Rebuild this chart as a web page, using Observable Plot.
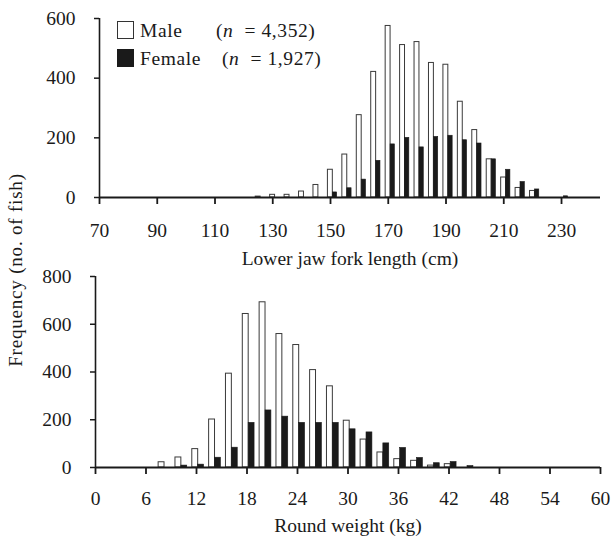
<!DOCTYPE html>
<html>
<head>
<meta charset="utf-8">
<script src="https://cdn.jsdelivr.net/npm/d3@7"></script>
<script src="https://cdn.jsdelivr.net/npm/@observablehq/plot@0.6"></script>
<style>
  body { margin: 0; background: #fff; }
  #wrap { position: relative; width: 613px; height: 542px; font-family: "Liberation Serif", "Times New Roman", serif; color: #1a1a1a; }
  #wrap svg { display: block; overflow: visible; }
  .lg { position: absolute; font-size: 19.5px; letter-spacing: 0.6px; line-height: 1; white-space: nowrap; }
  .sw { position: absolute; width: 17px; height: 18px; box-sizing: border-box; border: 1.2px solid #333; }
  #ytitle { position: absolute; left: 15px; top: 270px; transform: translate(-50%, -50%) rotate(-90deg); font-size: 19px; letter-spacing: 0.8px; white-space: nowrap; line-height: 1; }
</style>
</head>
<body>
<div id="wrap">
  <div id="top"></div>
  <div id="bottom"></div>
  <div id="ytitle">Frequency (no. of fish)</div>
  <div class="sw" style="left:117px; top:21px; background:#fff;"></div>
  <div class="lg" style="left:140px; top:21px;">Male</div>
  <div class="lg" style="left:216px; top:21px;">(<i>n</i>&nbsp; = 4,352)</div>
  <div class="sw" style="left:117px; top:49px; background:#1a1a1a; border-color:#1a1a1a;"></div>
  <div class="lg" style="left:140px; top:49px;">Female</div>
  <div class="lg" style="left:222px; top:49px;">(<i>n</i>&nbsp; = 1,927)</div>
</div>
<script>
// ---- Lower jaw fork length (cm) ----
const lengthBins   = [125, 130, 135, 140, 145, 150, 155, 160, 165, 170, 175, 180, 185, 190, 195, 200, 205, 210, 215, 220, 225, 230];
const lengthMale   = [3, 9, 9, 20, 42, 93, 144, 276, 421, 575, 511, 521, 451, 445, 321, 226, 128, 67, 32, 22, 0, 0];
const lengthFemale = [0, 0, 0, 0, 0, 17, 31, 60, 123, 178, 200, 168, 203, 207, 192, 181, 128, 93, 52, 27, 0, 4];
const lengthXTicks = [70, 90, 110, 130, 150, 170, 190, 210, 230];
const lengthYTicks = [0, 200, 400, 600];

// ---- Round weight (kg) ----
const weightBins   = [8, 10, 12, 14, 16, 18, 20, 22, 24, 26, 28, 30, 32, 34, 36, 38, 40, 42, 44];
const weightMale   = [22, 42, 77, 201, 393, 643, 692, 559, 513, 408, 340, 196, 117, 63, 35, 28, 8, 14, 0];
const weightFemale = [0, 8, 12, 41, 83, 187, 239, 213, 187, 187, 187, 160, 147, 101, 82, 40, 18, 23, 6];
const weightXTicks = [0, 6, 12, 18, 24, 30, 36, 42, 48, 54, 60];
const weightYTicks = [0, 200, 400, 600, 800];

const lengthData = lengthBins.map((b, i) => ({bin: b, male: lengthMale[i], female: lengthFemale[i]}));
const weightData = weightBins.map((b, i) => ({bin: b, male: weightMale[i], female: weightFemale[i]}));

const style = {fontFamily: '"Liberation Serif", "Times New Roman", serif', fontSize: "19.5px", color: "#1a1a1a", background: "#fff", overflow: "visible"};

function panel({data, xDomain, yDomain, xTicks, yTicks, label, height, marginTop, marginBottom, marginLeft, mw, ml, fr, xPad, lblOff}) {
  return Plot.plot({
    width: 613,
    height,
    marginTop,
    marginBottom,
    marginLeft,
    marginRight: 13,
    style,
    x: {domain: xDomain},
    y: {domain: yDomain},
    marks: [
      Plot.rectY(data, {x1: d => d.bin - ml, x2: d => d.bin + mw, y: "male", fill: "#fff", stroke: "#3a3a3a", strokeWidth: 1}),
      Plot.rectY(data.filter(d => d.female > 0), {x1: d => d.bin + mw, x2: d => d.bin + fr, y: "female", fill: "#1a1a1a", stroke: "#1a1a1a", strokeWidth: 0.6}),
      Plot.ruleX([xDomain[0]], {y1: yDomain[0], y2: yDomain[1], stroke: "#1a1a1a", strokeWidth: 1.6}),
      Plot.ruleY([0], {stroke: "#1a1a1a", strokeWidth: 2}),
      Plot.axisY({ticks: yTicks, tickSize: 5, tickPadding: 19, tickFormat: d => String(d), label: null, stroke: "#1a1a1a", strokeWidth: 1.5}),
      Plot.axisX({ticks: xTicks, tickSize: 7, tickPadding: xPad, tickFormat: d => String(d), label, labelAnchor: "center", labelArrow: "none", labelOffset: lblOff, stroke: "#1a1a1a", strokeWidth: 1.8})
    ]
  });
}

document.getElementById("top").append(panel({
  data: lengthData, xDomain: [70, 243.5], yDomain: [0, 600], xTicks: lengthXTicks, yTicks: lengthYTicks,
  label: "Lower jaw fork length (cm)", height: 270, marginTop: 18, marginBottom: 73, marginLeft: 99,
  ml: 0.9, mw: 0.8, fr: 2.3, xPad: 19, lblOff: 67
}));

document.getElementById("bottom").append(panel({
  data: weightData, xDomain: [0, 60], yDomain: [0, 800], xTicks: weightXTicks, yTicks: weightYTicks,
  label: "Round weight (kg)", height: 272, marginTop: 6, marginBottom: 75, marginLeft: 95,
  ml: 0.5, mw: 0.2, fr: 0.9, xPad: 17, lblOff: 64
}));
</script>
</body>
</html>
